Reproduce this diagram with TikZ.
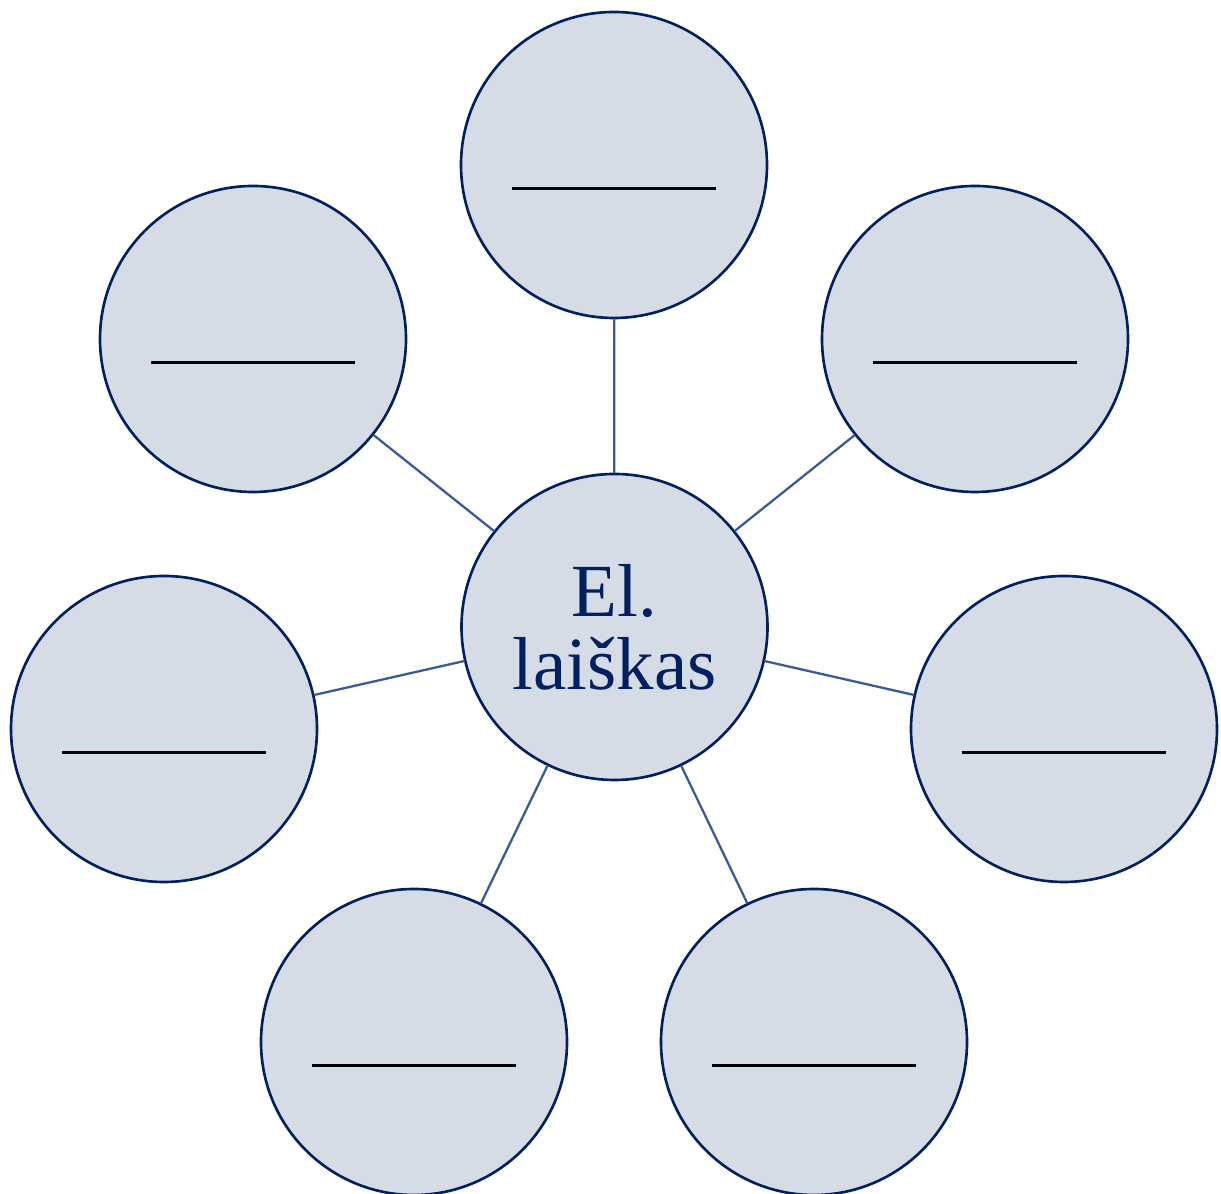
\documentclass[tikz,border=0pt]{standalone}
\usepackage{fontspec}
\setmainfont{Liberation Serif}
\usetikzlibrary{calc}

\definecolor{navy}{RGB}{0,32,96}
\definecolor{spoke}{RGB}{59,89,152}
\definecolor{bubblefill}{RGB}{214,220,229}

\begin{document}
\begin{tikzpicture}[line cap=round,line join=round,x=1.0cm,y=1.0cm,
  bubble/.style={circle, draw=navy, fill=bubblefill, line width=1.5pt,
    minimum size=6.12cm, inner sep=0pt, text=navy},
  spokeline/.style={draw=spoke, line width=1.3pt},
  blank/.style={draw=black, line width=1.7pt, line cap=butt}]
\useasboundingbox (0.0, 0.0) rectangle (24.42, 23.88);

\node[bubble, align=center, font=\fontsize{42.7}{41.5}\selectfont] (mail) at (12.29, 11.34) {El.\\laiškas};

\node[bubble] (top) at (12.28, 20.58) {};
\node[bubble] (upleft) at (5.06, 17.10) {};
\node[bubble] (upright) at (19.50, 17.10) {};
\node[bubble] (left) at (3.28, 9.30) {};
\node[bubble] (right) at (21.28, 9.30) {};
\node[bubble] (downleft) at (8.28, 3.04) {};
\node[bubble] (downright) at (16.28, 3.04) {};

% spokes from the centre
\foreach \n in {top, upleft, upright, left, right, downleft, downright}
  \draw[spokeline] (mail) -- (\n);

% lines to write on
\foreach \n in {top, upleft, upright, left, right, downleft, downright}
  \draw[blank] ($(\n.center)+(-2.04,-0.48)$) -- ($(\n.center)+(2.04,-0.48)$);
\end{tikzpicture}
\end{document}
